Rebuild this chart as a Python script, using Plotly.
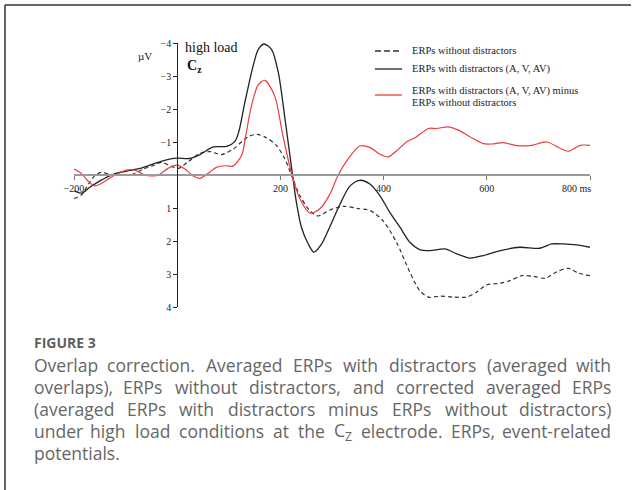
import plotly.graph_objects as go

# ---------------- data ----------------
t_with = [-200, -185, -170, -150, -124, -98, -72, -47, -21, 0, 24, 44, 70, 96, 112, 120, 131, 147, 157, 168,
          183, 196, 209, 222, 231, 241, 254, 265, 280, 296, 315, 335, 354, 374, 393, 412, 432, 451, 470,
          490, 519, 542, 567, 593, 626, 664, 703, 726, 748, 774, 800]
v_with = [0.48, 0.55, 0.38, 0.18, -0.02, -0.12, -0.20, -0.33, -0.46, -0.51, -0.50, -0.62, -0.85, -0.87, -1.02,
          -1.35, -2.19, -3.3, -3.8, -3.97, -3.8, -3.1, -1.69, -0.18, 0.83, 1.6, 2.09, 2.34, 2.09, 1.56, 0.9,
          0.33, 0.16, 0.28, 0.63, 1.13, 1.59, 2.04, 2.26, 2.29, 2.24, 2.39, 2.52, 2.44, 2.29, 2.19, 2.22,
          2.09, 2.09, 2.12, 2.19]

t_without = [-200, -186, -170, -157, -147, -131, -105, -86, -66, -47, -30, -14, 2, 21, 44, 63, 86, 108, 128,
             140, 155, 173, 193, 209, 222, 238, 257, 273, 296, 322, 348, 374, 399, 425, 451, 470, 487, 509,
             535, 561, 580, 600, 626, 645, 668, 690, 713, 736, 758, 777, 800]
v_without = [0.71, 0.61, 0.23, -0.02, -0.08, -0.02, 0.01, -0.02, -0.18, -0.28, -0.38, -0.28, -0.2, -0.4, -0.65,
             -0.71, -0.62, -0.78, -1.05, -1.18, -1.23, -1.13, -0.88, -0.48, 0.03, 0.63, 1.08, 1.24, 1.06,
             0.95, 1.01, 1.08, 1.39, 2.04, 2.95, 3.5, 3.70, 3.67, 3.70, 3.70, 3.55, 3.33, 3.28, 3.2, 3.05,
             3.07, 3.13, 2.93, 2.83, 2.97, 3.05]

t_diff = [-200, -186, -173, -160, -144, -124, -98, -82, -66, -47, -34, -18, -1, 15, 31, 44, 60, 76, 96, 108,
          125, 133, 141, 150, 157, 170, 189, 205, 222, 238, 257, 276, 296, 312, 331, 354, 374, 393, 409,
          425, 445, 461, 487, 503, 525, 545, 567, 593, 610, 632, 658, 687, 716, 742, 758, 781, 800]
v_diff = [-0.18, -0.05, 0.18, 0.33, 0.23, 0.03, -0.15, -0.15, -0.02, 0.03, -0.02, -0.2, -0.3, -0.18, 0.03,
          0.10, -0.05, -0.23, -0.28, -0.27, -0.6, -1.2, -1.89, -2.45, -2.74, -2.87, -2.39, -1.18, -0.02,
          0.73, 1.15, 1.03, 0.58, 0.0, -0.48, -0.88, -0.83, -0.63, -0.55, -0.73, -1.01, -1.13, -1.41,
          -1.41, -1.46, -1.36, -1.16, -0.95, -0.94, -0.98, -0.89, -0.90, -1.00, -0.81, -0.72, -0.90, -0.90]

x_tickvals = [-200, 200, 400, 600, 800]
x_ticktext = ["\u2212200", "200", "400", "600", ""]
x_last_label = "800 ms"
y_tickvals = [-4, -3, -2, -1, 1, 2, 3, 4]
y_ticktext = ["\u22124", "\u22123", "\u22122", "\u22121", "1", "2", "3", "4"]

legend_labels = ["ERPs without distractors", "ERPs with distractors (A, V, AV)",
                 "ERPs with distractors (A, V, AV) minus", "ERPs without distractors"]

caption_title = "FIGURE 3"
caption_lines = [
    "Overlap correction. Averaged ERPs with distractors (averaged with",
    "overlaps), ERPs without distractors, and corrected averaged ERPs",
    "(averaged ERPs with distractors minus ERPs without distractors)",
    "under high load conditions at the C<sub>Z</sub> electrode. ERPs, event-related",
    "potentials.",
]

# ---------------- layout geometry ----------------
W, H = 640, 490
L, R, T, B = 74, 50, 43, 183
PW, PH = W - L - R, H - T - B


def px2x(px):
    return (px - L) / PW


def py2y(py):
    return (H - B - py) / PH


SERIF = "Liberation Serif, Times New Roman, serif"
SANS = "Open Sans, Noto Sans, sans-serif"
BLACK = "#222222"
DASH = "#333333"
RED = "#ee3b3b"

# approximate Open Sans advance widths (units per 2048 em) for justifying caption
OS_W = {' ': 532, '(': 578, ')': 578, ',': 502, '-': 659, '.': 545, 'A': 1296, 'C': 1292, 'E': 1139,
        'O': 1595, 'P': 1233, 'R': 1266, 'Z': 1169, 'a': 1182, 'b': 1255, 'c': 975, 'd': 1255, 'e': 1149,
        'f': 694, 'g': 1122, 'h': 1257, 'i': 518, 'j': 518, 'k': 1075, 'l': 518, 'm': 1905, 'n': 1257,
        'o': 1237, 'p': 1255, 'q': 1255, 'r': 836, 's': 977, 't': 723, 'u': 1257, 'v': 1026, 'w': 1593,
        'x': 1073, 'y': 1028, 'z': 977}


def word_width(word, size):
    sub = False
    total = 0.0
    i = 0
    while i < len(word):
        if word.startswith("<sub>", i):
            sub = True
            i += 5
            continue
        if word.startswith("</sub>", i):
            sub = False
            i += 6
            continue
        w = OS_W.get(word[i], 1150) / 2048.0 * size
        total += w * (0.7 if sub else 1.0)
        i += 1
    return total


fig = go.Figure()
fig.add_trace(go.Scatter(x=t_without, y=v_without, mode="lines",
                         line=dict(color=DASH, width=1.2, dash="4px,3px", shape="spline", smoothing=0.8),
                         showlegend=False))
fig.add_trace(go.Scatter(x=t_with, y=v_with, mode="lines",
                         line=dict(color=BLACK, width=1.3, shape="spline", smoothing=0.8),
                         showlegend=False))
fig.add_trace(go.Scatter(x=t_diff, y=v_diff, mode="lines",
                         line=dict(color=RED, width=1.2, shape="spline", smoothing=0.8),
                         showlegend=False))

fig.update_layout(
    width=W, height=H,
    margin=dict(l=L, r=R, t=T, b=B, pad=0),
    paper_bgcolor="white", plot_bgcolor="white",
    showlegend=False,
    xaxis=dict(range=[-200, 800], anchor="free", position=0.5, side="bottom",
               showgrid=False, zeroline=False, showline=True, linecolor="#9a9a9a", linewidth=2,
               ticks="outside", ticklen=4, tickwidth=1, tickcolor="#777777",
               tickvals=x_tickvals, ticktext=x_ticktext,
               tickfont=dict(family=SERIF, size=10, color="#222222")),
    yaxis=dict(range=[4, -4], anchor="free", position=0.2, side="left",
               showgrid=False, zeroline=False, showline=True, linecolor="#222222", linewidth=1,
               ticks="outside", ticklen=4, tickwidth=1, tickcolor="#222222",
               tickvals=y_tickvals, ticktext=y_ticktext,
               tickfont=dict(family=SERIF, size=10, color="#222222")),
)

ann = []
ann.append(dict(text=x_last_label, x=px2x(593), y=py2y(188), xanchor="right", yanchor="middle",
                font=dict(family=SERIF, size=10, color="#222222")))
ann.append(dict(text="\u00b5V", x=px2x(145), y=py2y(56), xanchor="center", yanchor="middle",
                font=dict(family=SERIF, size=11, color="#222222")))
ann.append(dict(text="high load", x=px2x(183), y=py2y(47), xanchor="left", yanchor="middle",
                font=dict(family=SERIF, size=14, color="#111111")))
ann.append(dict(text="<b>C<sub>z</sub></b>", x=px2x(185), y=py2y(66), xanchor="left", yanchor="middle",
                font=dict(family=SERIF, size=14, color="#111111")))
for lab, yy in zip(legend_labels, [51, 69, 91, 102]):
    ann.append(dict(text=lab, x=px2x(410), y=py2y(yy), xanchor="left", yanchor="middle",
                    font=dict(family=SERIF, size=10.5, color="#222222")))

# caption
CAP_SIZE = 17.5
CAP_COLOR = "#666666"
ann.append(dict(text="<b>" + caption_title + "</b>", x=px2x(32), y=py2y(342), xanchor="left",
                yanchor="middle", font=dict(family=SANS, size=14, color="#5f5f5f")))
X0, X1 = 32, 613
for i, line in enumerate(caption_lines):
    yy = py2y(365 + 22 * i)
    if i == len(caption_lines) - 1:
        ann.append(dict(text=line, x=px2x(X0), y=yy, xanchor="left", yanchor="middle",
                        font=dict(family=SANS, size=CAP_SIZE, color=CAP_COLOR)))
        continue
    words = line.split(" ")
    widths = [word_width(w, CAP_SIZE) for w in words]
    gap = (X1 - X0 - sum(widths)) / (len(words) - 1)
    pos = X0
    for k, (w, ww) in enumerate(zip(words, widths)):
        if k == len(words) - 1:
            ann.append(dict(text=w, x=px2x(X1), y=yy, xanchor="right", yanchor="middle",
                            font=dict(family=SANS, size=CAP_SIZE, color=CAP_COLOR)))
        elif k == 0:
            ann.append(dict(text=w, x=px2x(X0), y=yy, xanchor="left", yanchor="middle",
                            font=dict(family=SANS, size=CAP_SIZE, color=CAP_COLOR)))
        else:
            ann.append(dict(text=w, x=px2x(pos + ww / 2), y=yy, xanchor="center", yanchor="middle",
                            font=dict(family=SANS, size=CAP_SIZE, color=CAP_COLOR)))
        pos += ww + gap

for a in ann:
    a.update(xref="paper", yref="paper", showarrow=False)
fig.update_layout(annotations=ann)

shapes = []
shapes.append(dict(type="line", x0=px2x(375), x1=px2x(402), y0=py2y(51), y1=py2y(51),
                   line=dict(color=DASH, width=1.5, dash="6px,3px")))
shapes.append(dict(type="line", x0=px2x(375), x1=px2x(402), y0=py2y(69), y1=py2y(69),
                   line=dict(color=BLACK, width=1.3)))
shapes.append(dict(type="line", x0=px2x(375), x1=px2x(402), y0=py2y(95), y1=py2y(95),
                   line=dict(color=RED, width=1.3)))
shapes.append(dict(type="line", x0=px2x(5), x1=px2x(631), y0=py2y(5), y1=py2y(5),
                   line=dict(color="#333333", width=1.5)))
shapes.append(dict(type="line", x0=px2x(5), x1=px2x(5), y0=py2y(5), y1=py2y(492),
                   line=dict(color="#333333", width=1.5)))
for s in shapes:
    s.update(xref="paper", yref="paper")
fig.update_layout(shapes=shapes)

fig.write_html("out.html")
